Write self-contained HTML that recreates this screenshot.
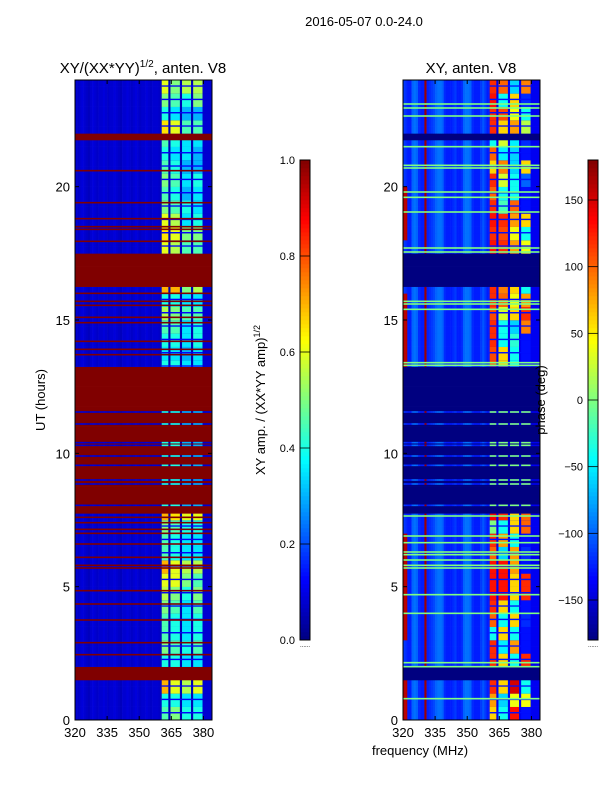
<!DOCTYPE html>
<html><head><meta charset="utf-8"><style>
body{margin:0;background:#fff;}
svg text{font-family:"Liberation Sans",sans-serif;fill:#000;}
</style></head><body>
<svg id="fig" width="600" height="800" viewBox="0 0 600 800" xmlns="http://www.w3.org/2000/svg">
<text x="364" y="26" font-size="13" text-anchor="middle">2016-05-07 0.0-24.0</text>
<text x="143" y="73" font-size="15" text-anchor="middle">XY/(XX*YY)<tspan font-size="10" dy="-6">1/2</tspan><tspan dy="6">, anten. V8</tspan></text>
<text x="471" y="73" font-size="15" text-anchor="middle">XY, anten. V8</text>
<text x="0" y="0" font-size="13" text-anchor="middle" transform="translate(45,400) rotate(-90)">UT (hours)</text>
<text x="420" y="755" font-size="13" text-anchor="middle">frequency (MHz)</text>
<text x="0" y="0" font-size="13" text-anchor="middle" transform="translate(265,400) rotate(-90)">XY amp. / (XX*YY amp)<tspan font-size="9" dy="-5">1/2</tspan></text>
<g id="left"></g>
<g id="right"></g>
<g id="cb1"></g>
<g id="cb2"></g>
<text x="0" y="0" font-size="13" text-anchor="middle" transform="translate(545,400) rotate(-90)">phase (deg)</text>
</svg>
<script>
const ampFlag=[[0,0.08],[1.6,2.0],[7.8,13.3],[15.15,15.3],[16.2,17.55],[21.85,22.05]];
const ampRedLines=[7.6,7.4,7.15,7.0,6.6,6.1,5.8,5.7,4.85,4.35,3.75,2.9,2.45,20.6,19.4,18.8,18.5,18.4,17.95,16.0,15.7,15.55,15.1,14.9,14.2,13.9,13.7,21.9];
const dataLinesInFlag=[11.55,11.1,10.4,10.3,9.9,9.55,9.0,8.85,8.05];
const phaseGreenLines=[23.1,22.95,22.65,21.5,20.8,20.7,19.8,19.6,19.05,17.7,17.55,15.7,15.6,15.4,13.4,13.3,7.65,6.9,6.65,6.3,6.2,6.0,5.8,5.7,4.7,4.0,2.15,2.0,0.8];
const lowAmp=[0.08,0.07,0.08,0.09,0.08,0.07,0.06,0.08,0.09,0.08,0.07,0.08,0.08,0.09,0.08,0.07,0.08,0.08,0.09,0.08,0.07,0.06,0.08,0.08,0.09,0.08,0.07,0.08,0.09,0.08,0.07,0.08,0.08,0.09,0.08,0.07,0.08,0.08,0.08,0.07,0.06];
const lowPhase=[-115,-120,-125,-125,-100,-95,-100,-120,-125,-125,170,-125,-120,-115,-110,-100,-95,-95,-100,-120,-125,-125,-125,-120,-115,-125,-125,-120,-100,-95,-95,-100,-120,-125,-125,-125,-115,-105,-115,-125,-125];
const edgeRedHours=[0,1,3,4,5,6,13,14,15,18,19];
const ampHigh=[[0.45,0.5,0.4,0.4],[0.4,0.4,0.35,0.35],[0.7,0.6,0.55,0.6],[0.7,0.7,0.65,0.65],[0.4,0.4,0.35,0.35],[0.5,0.45,0.4,0.45],[0.45,0.4,0.35,0.4],[0.45,0.4,0.35,0.4],[0.5,0.45,0.35,0.45],[0.55,0.5,0.4,0.5],[0.6,0.6,0.5,0.45],[0.7,0.6,0.55,0.55],[0.45,0.4,0.35,0.35],[0.45,0.4,0.35,0.35],[0.5,0.45,0.4,0.4],[0.7,0.65,0.6,0.6],
[0.4,0.4,0.3,0.3],[0.4,0.4,0.3,0.3],[0.4,0.4,0.3,0.3],[0.4,0.4,0.3,0.3],[0.4,0.4,0.3,0.3],[0.4,0.4,0.3,0.3],[0.4,0.4,0.3,0.3],[0.4,0.4,0.3,0.3],[0.4,0.4,0.3,0.3],[0.4,0.4,0.3,0.3],
[0.4,0.4,0.35,0.35],[0.35,0.35,0.3,0.35],[0.4,0.4,0.35,0.4],[0.45,0.45,0.35,0.4],[0.55,0.5,0.45,0.45],[0.4,0.4,0.35,0.35],[0.7,0.7,0.5,0.55],[0.7,0.7,0.5,0.55],[0.6,0.6,0.5,0.5],[0.6,0.55,0.45,0.45],[0.65,0.6,0.5,0.5],[0.6,0.55,0.35,0.4],[0.5,0.45,0.4,0.35],[0.45,0.4,0.3,0.35],[0.5,0.45,0.35,0.4],[0.45,0.4,0.3,0.3],[0.4,0.35,0.35,0.3],[0.45,0.4,0.35,0.35],[0.65,0.6,0.45,0.45],[0.4,0.35,0.3,0.3],[0.5,0.45,0.4,0.5],[0.6,0.5,0.55,0.55]];
const phaseHigh=[[60,-40,130,-130],[80,-60,40,40],[120,60,150,-40],[150,150,150,-130],[120,60,-40,120],[120,-50,80,-130],[-40,60,-40,-130],[100,-40,60,-120],[120,60,-40,-130],[130,130,60,120],[130,130,60,120],[130,130,80,-130],[100,-60,80,-120],[120,80,-40,-130],[0,-40,60,100],[140,120,60,100],
[0,0,0,0],[0,0,0,0],[0,0,0,0],[0,0,0,0],[0,0,0,0],[0,0,0,0],[0,0,0,0],[0,0,0,0],[0,0,0,0],[0,0,0,0],
[110,60,-40,-130],[110,60,-40,-130],[120,-40,-30,-130],[120,-40,-60,90],[110,30,60,120],[120,100,40,80],[120,90,60,-40],[120,90,60,-40],[130,120,80,40],[130,120,80,40],[120,110,40,-40],[130,120,80,60],[120,-20,100,-130],[100,-40,-40,-130],[120,30,-40,-100],[60,90,-60,60],[100,-50,-60,-130],[-40,30,-50,-120],[120,60,80,20],[120,110,40,-40],[130,-40,60,-120],[120,100,-60,90]];
const subBands=[[360.5,363.6],[364.6,369],[370,374.2],[375.2,379.6]];
const yTicks=[0,5,10,15,20];
const xTicks=[320,335,350,365,380];
const ampTicks=[0,0.2,0.4,0.6,0.8,1.0];
const phaseTicks=[-150,-100,-50,0,50,100,150];

const NS="http://www.w3.org/2000/svg";
function jet(x){x=Math.max(0,Math.min(1,x));const c=v=>Math.round(255*Math.max(0,Math.min(1,1.5-Math.abs(v))));return `rgb(${c(4*x-3)},${c(4*x-2)},${c(4*x-1)})`;}
const ampC=v=>jet(v);
const phC=v=>jet((v+180)/360);
function mk(p,tag,attrs){const e=document.createElementNS(NS,tag);for(const k in attrs)e.setAttribute(k,attrs[k]);p.appendChild(e);return e;}
const Y=t=>720-t*640/24;
function X(x0,f){return x0+(f-320)*137/64;}
function flagged(t){return ampFlag.some(a=>t>=a[0]&&t<a[1]);}

function drawRow(g,x0,yTop,h,bin,phase,stripe){
  const hr=Math.floor(bin/2);
  let r=mk(g,'rect',{x:X(x0,360.5),y:yTop,width:X(x0,384)-X(x0,360.5),height:h,fill:phase?phC(-140):ampC(0.05)});
  
  
  for(let i=0;i<lowAmp.length;i++){
    const f=320+i, f1=Math.min(f+1,360.5);
    let v=phase?lowPhase[i]:lowAmp[i];
    if(phase&&i<2&&edgeRedHours.includes(hr)) v=160;
    const c=mk(g,'rect',{x:X(x0,f),y:yTop,width:X(x0,f1)-X(x0,f)+0.3,height:h,fill:phase?phC(v):ampC(v)});
    
    
  }
  for(let k=0;k<4;k++){
    const v=phase?phaseHigh[bin][k]:ampHigh[bin][k];
    const c=mk(g,'rect',{x:X(x0,subBands[k][0]),y:yTop,width:X(x0,subBands[k][1])-X(x0,subBands[k][0]),height:h,fill:phase?phC(v):ampC(v)});
    
    
  }
  if(!phase){const c=mk(g,'rect',{x:X(x0,379.6),y:yTop,width:X(x0,384)-X(x0,379.6),height:h,fill:ampC(0.08)});
    
    }
  if(stripe&&h>3){
    const s=mk(g,'rect',{x:X(x0,360.5),y:yTop+h-1.6,width:X(x0,379.6)-X(x0,360.5),height:1.3,fill:phase?phC(-130):ampC(0.12)});
    
    
  }
}

function panel(id,x0,phase){
  const g=document.getElementById(id);
  const flagCol=phase?phC(-180):ampC(1);
  for(let r=0;r<96;r++){
    const t=r*0.25+0.125, bin=Math.floor(r/2);
    const y0=Y((r+1)*0.25), h=Y(r*0.25)-y0;
    if(flagged(t)){
      const c=mk(g,'rect',{x:x0,y:y0,width:137,height:h+0.3,fill:flagCol});
      
      
    } else drawRow(g,x0,y0,h+0.3,bin,phase,r%2===1);
  }
  dataLinesInFlag.forEach(t=>drawRow(g,x0,Y(t)-0.8,1.6,Math.floor(t*2),phase,false));
  if(!phase){
    ampRedLines.forEach(t=>{const l=mk(g,'rect',{x:x0,y:Y(t)-0.8,width:137,height:1.6,fill:ampC(1)});
      
      });
  } else {
    phaseGreenLines.forEach(t=>{const l=mk(g,'rect',{x:x0,y:Y(t)-0.8,width:137,height:1.6,fill:phC(0)});
      
      });
  }
  const fr=mk(g,'rect',{x:x0,y:80,width:137,height:640,fill:'none',stroke:'#000','stroke-width':1});
  
  
  yTicks.forEach(v=>{
    mk(g,'line',{x1:x0,x2:x0+4,y1:Y(v),y2:Y(v),stroke:'#000'});
    mk(g,'line',{x1:x0+137,x2:x0+133,y1:Y(v),y2:Y(v),stroke:'#000'});
    const tx=mk(g,'text',{x:x0-5,y:Y(v)+5,'font-size':13,'text-anchor':'end'});tx.textContent=v;
    
    
  });
  xTicks.forEach(v=>{
    mk(g,'line',{x1:X(x0,v),x2:X(x0,v),y1:720,y2:716,stroke:'#000'});
    mk(g,'line',{x1:X(x0,v),x2:X(x0,v),y1:80,y2:84,stroke:'#000'});
    const tx=mk(g,'text',{x:X(x0,v),y:737,'font-size':13,'text-anchor':'middle'});tx.textContent=v;
    
    
  });
}
panel('left',75,false);
panel('right',403,true);

function cbar(id,x0,ticks,lo,hi,cf,fmt){
  const g=document.getElementById(id);
  for(let i=0;i<120;i++){
    const v=lo+(hi-lo)*(i+0.5)/120;
    const r=mk(g,'rect',{x:x0,y:640-(i+1)*4,width:10,height:4.3,fill:cf(v)});
    
    
  }
  mk(g,'rect',{x:x0,y:160,width:10,height:480,fill:'none',stroke:'#000','stroke-width':1});
  ticks.forEach(v=>{
    const y=640-(v-lo)/(hi-lo)*480;
    mk(g,'line',{x1:x0,x2:x0+10,y1:y,y2:y,stroke:'#000','stroke-width':0.8});
    const t=mk(g,'text',{x:x0-5,y:y+4,'font-size':11,'text-anchor':'end'});t.textContent=fmt(v);
    
    
  });
  const d=mk(g,'text',{x:x0,y:647,'font-size':6,fill:'#888'});d.textContent='......';
}
cbar('cb1',300,ampTicks,0,1,ampC,v=>v.toFixed(1));
cbar('cb2',588,phaseTicks,-180,180,phC,v=>v<0?'\u2212'+(-v):String(v));
</script>
</body></html>
